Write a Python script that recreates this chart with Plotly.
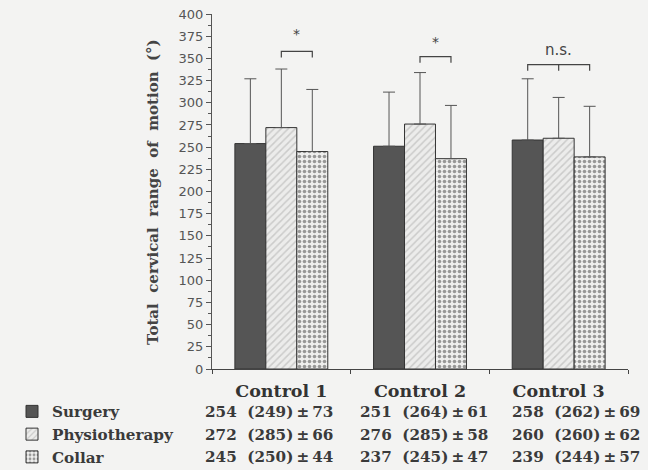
import plotly.graph_objects as go

# ---- data ----
groups = ["Control 1", "Control 2", "Control 3"]
series = ["Surgery", "Physiotherapy", "Collar"]
means = {"Surgery": [254, 251, 258], "Physiotherapy": [272, 276, 260], "Collar": [245, 237, 239]}
medians = {"Surgery": [249, 264, 262], "Physiotherapy": [285, 285, 260], "Collar": [250, 245, 244]}
sds = {"Surgery": [73, 61, 69], "Physiotherapy": [66, 58, 62], "Collar": [44, 47, 57]}
# error bar lengths as drawn in the figure
drawn_err = {"Surgery": [73, 61, 69], "Physiotherapy": [66, 58, 46], "Collar": [70, 60, 57]}
y_ticks = list(range(0, 401, 25))
# significance marks: (group index, from series, to series, bracket height, label, label height)
sig_marks = [
    (0, "Physiotherapy", "Collar", 358, "*", 378),
    (1, "Physiotherapy", "Collar", 352, "*", 368),
    (2, "Surgery", "Collar", 343, "n.s.", 360),
]

W, H = 648, 470
L, R, T, B = 212, 20, 14, 101
PW, PH = W - L - R, H - T - B

def px_x(px):
    return (px - L) / PW

def px_y(py):
    return (H - B - py) / PH

BG = "#f3f3f2"
INK = "#3a3a3a"
serif = "DejaVu Serif"

styles = {
    "Surgery": dict(color="#555555", pattern=dict(shape="")),
    "Physiotherapy": dict(color="#ececeb", pattern=dict(shape="/", fgcolor="#aaaaaa", bgcolor="#ececeb", size=5, solidity=0.3)),
    "Collar": dict(color="#eeeeed", pattern=dict(shape=".", fgcolor="#404040", bgcolor="#eeeeed", size=5, solidity=0.4)),
}

fig = go.Figure()
for s in series:
    st = styles[s]
    fig.add_trace(go.Bar(
        name=s, x=groups, y=means[s],
        marker=dict(color=st["color"], pattern=st["pattern"], line=dict(color="#333333", width=1)),
        error_y=dict(type="data", symmetric=False, array=drawn_err[s], arrayminus=[0] * len(groups),
                     color="#555555", thickness=1, width=6),
        legendgroup=s,
    ))

bargap = 0.33
bw = (1 - bargap) / len(series)
offs = {s: (i - (len(series) - 1) / 2) * bw for i, s in enumerate(series)}

shapes = []
annotations = []
for gi, s1, s2, yb, lab, yl in sig_marks:
    x1, x2 = gi + offs[s1], gi + offs[s2]
    tip = 7
    shapes.append(dict(type="path", xref="x", yref="y",
                       path=f"M {x1} {yb - tip} L {x1} {yb} L {x2} {yb} L {x2} {yb - tip}",
                       line=dict(color="#444444", width=1.2)))
    if lab == "n.s.":
        xm = gi + offs["Physiotherapy"]
        shapes.append(dict(type="line", xref="x", yref="y", x0=xm, x1=xm, y0=yb, y1=yb - tip,
                           line=dict(color="#444444", width=1.2)))
    annotations.append(dict(x=(x1 + x2) / 2, y=yl, xref="x", yref="y", text=lab, showarrow=False,
                            font=dict(family="DejaVu Sans", size=15 if lab == "n.s." else 14, color="#444444"),
                            xanchor="center", yanchor="middle"))

# y-axis title
annotations.append(dict(x=px_x(153), y=px_y(192), xref="paper", yref="paper",
                        text="Total  cervical  range  of  motion  (°)", textangle=-90, showarrow=False,
                        font=dict(family=serif, size=15, color="#444444", weight="bold"),
                        xanchor="center", yanchor="middle"))

# table of values below the chart
col_x = [203, 358, 510]
row_y = [412, 434.5, 457]
for ri, s in enumerate(series):
    for ci in range(len(groups)):
        txt = f"{means[s][ci]}  ({medians[s][ci]})\u2009±\u2009{sds[s][ci]}"
        annotations.append(dict(x=px_x(col_x[ci]), y=px_y(row_y[ri]), xref="paper", yref="paper",
                                text=txt, showarrow=False, xanchor="left", yanchor="middle",
                                font=dict(family=serif, size=15.2, color=INK, weight="bold")))

fig.update_layout(
    width=W, height=H,
    margin=dict(l=L, r=R, t=T, b=B, pad=0, autoexpand=False),
    paper_bgcolor=BG, plot_bgcolor=BG,
    barmode="group", bargap=bargap, bargroupgap=0,
    shapes=shapes, annotations=annotations,
    showlegend=True,
    legend=dict(x=px_x(12), y=px_y(395), xanchor="left", yanchor="top",
                orientation="v", traceorder="normal", bgcolor="rgba(0,0,0,0)",
                font=dict(family=serif, size=15.2, color=INK, weight="bold"),
                itemclick=False, itemdoubleclick=False),
    xaxis=dict(type="category", categoryorder="array", categoryarray=groups, range=[-0.5, 2.5],
               showline=True, linecolor="#444444", linewidth=1, showgrid=False, zeroline=False,
               ticks="outside", tickson="boundaries", ticklen=4, tickcolor="#444444",
               ticklabelstandoff=6,
               tickfont=dict(family=serif, size=17.5, color="#333333", weight="bold")),
    yaxis=dict(range=[0, 400], tickvals=y_ticks, ticktext=[str(v) for v in y_ticks],
               showline=True, linecolor="#555555", linewidth=1, showgrid=False, zeroline=False,
               ticks="outside", ticklen=5, tickcolor="#555555",
               minor=dict(dtick=12.5, tick0=0, ticks="outside", ticklen=3, tickcolor="#555555", showgrid=False),
               tickfont=dict(family="DejaVu Sans", size=13, color="#555555")),
)

fig.write_html("out.html", config={"displayModeBar": False},
               post_script="document.body.style.margin='0px';")
